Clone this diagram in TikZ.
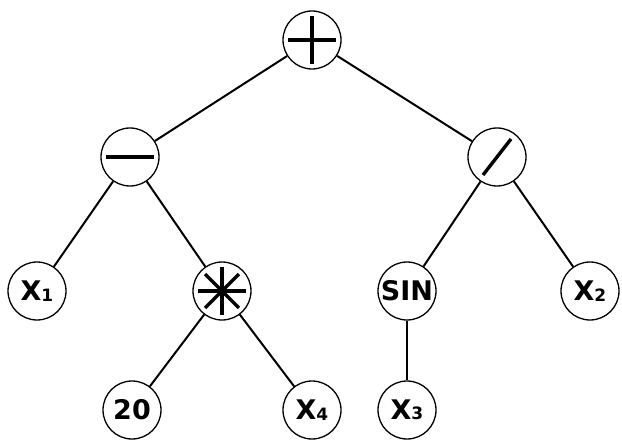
\documentclass[tikz,border=0pt]{standalone}
\usepackage{fontspec}
\setmainfont{DejaVu Sans}
\begin{document}
\begin{tikzpicture}[x=1pt,y=-1pt,
  tn/.style={circle,draw,line width=1.3pt,minimum size=58pt,inner sep=0pt,fill=white,font=\fontsize{27}{29}\selectfont\bfseries},
  edge/.style={line width=2pt},
  sym/.style={line width=3.4pt}]
\useasboundingbox (0,0) rectangle (622,441);
\newcommand{\sbx}[1]{X\raisebox{-0.5pt}{\fontsize{17}{18}\selectfont #1}}
\node[tn] (plus) at (312,40) {};
\node[tn] (minus) at (130,157) {};
\node[tn] (div) at (497,157) {};
\node[tn] (x1) at (37,291) {\sbx{1}};
\node[tn] (mul) at (222,291) {};
\node[tn] (sin) at (407,291) {SIN};
\node[tn] (x2) at (590,291) {\sbx{2}};
\node[tn] (c20) at (132,410) {20};
\node[tn] (x4) at (312,410) {\sbx{4}};
\node[tn] (x3) at (407,410) {\sbx{3}};
\draw[edge] (plus) -- (minus);
\draw[edge] (plus) -- (div);
\draw[edge] (minus) -- (x1);
\draw[edge] (minus) -- (mul);
\draw[edge] (div) -- (sin);
\draw[edge] (div) -- (x2);
\draw[edge] (mul) -- (c20);
\draw[edge] (mul) -- (x4);
\draw[edge] (sin) -- (x3);
% operator glyphs
\draw[sym] ([xshift=-24pt]plus.center) -- ([xshift=24pt]plus.center);
\draw[sym] ([yshift=-24pt]plus.center) -- ([yshift=24pt]plus.center);
\draw[sym] ([xshift=-24pt]minus.center) -- ([xshift=24pt]minus.center);
\draw[sym] ([shift={(-14pt,-18pt)}]div.center) -- ([shift={(14pt,18pt)}]div.center);
\foreach \a in {0,45,90,135}{
  \draw[sym] ([shift={(\a:24pt)}]mul.center) -- ([shift={(\a+180:24pt)}]mul.center);
}
\end{tikzpicture}
\end{document}
